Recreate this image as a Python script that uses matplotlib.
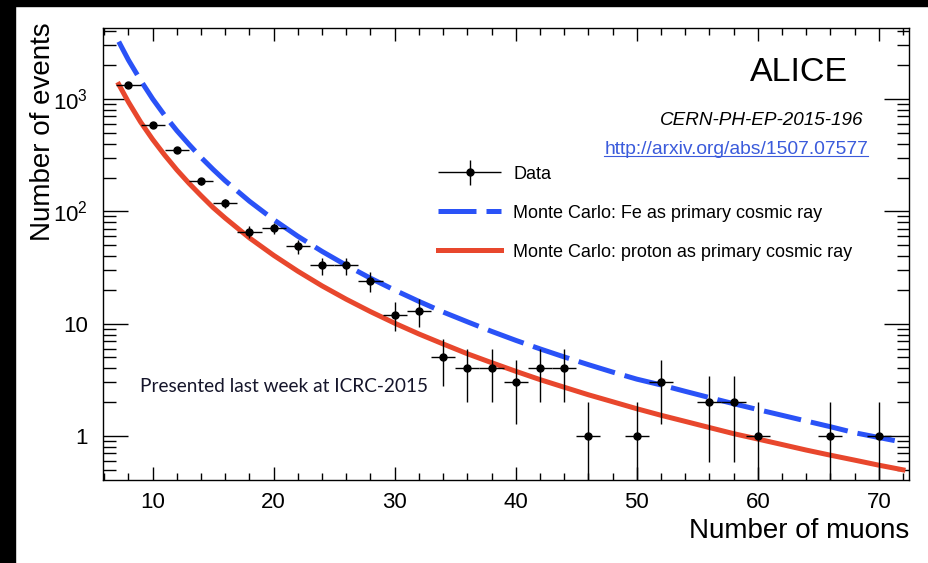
import matplotlib
matplotlib.use('Agg')
import matplotlib.pyplot as plt
import numpy as np
from matplotlib.container import ErrorbarContainer
from matplotlib.legend_handler import HandlerErrorbar
from matplotlib.lines import Line2D
from matplotlib.patches import Rectangle
from matplotlib.ticker import MultipleLocator, LogLocator, NullFormatter

plt.rcParams['font.family'] = ['Liberation Sans', 'DejaVu Sans']
plt.rcParams['mathtext.fontset'] = 'custom'
plt.rcParams['mathtext.rm'] = 'Liberation Sans'
plt.rcParams['mathtext.it'] = 'Liberation Sans:italic'

# measured data (number of muons per event, counts)
muons = [8, 10, 12, 14, 16, 18, 20, 22, 24, 26, 28, 30, 32, 34, 36, 38, 40,
         42, 44, 46, 50, 52, 56, 58, 60, 66, 70]
counts = [1330, 590, 350, 185, 118, 66, 71, 49, 33, 33, 24, 12, 13, 5, 4, 4, 3,
          4, 4, 1, 1, 3, 2, 2, 1, 1, 1]
bin_half_width = 1.0

# Monte Carlo curves
mc_x = [7.2, 8, 9, 10, 11, 12, 13, 14, 15, 16, 18, 20, 22, 24, 26, 28, 30, 32,
        34, 36, 38, 40, 42, 44, 46, 48, 50, 52, 54, 56, 58, 60, 62, 64, 66, 68,
        70, 72]
mc_fe = [3240, 2224, 1470, 1003, 713, 523, 395, 302, 236, 187, 123, 84.4, 60, 44,
         33.1, 25.4, 19.9, 15.8, 12.7, 10.4, 8.55, 7.11, 5.97, 5.06, 4.32, 3.71,
         3.21, 2.85, 2.5, 2.2, 1.94, 1.72, 1.53, 1.36, 1.21, 1.07, 0.97, 0.88]
mc_proton = [1350, 940, 625, 437, 316, 234, 178, 138, 108, 87, 58, 40.6, 29.3,
             21.7, 16.5, 12.8, 10.1, 8.1, 6.6, 5.4, 4.5, 3.77, 3.18, 2.72, 2.33,
             2.02, 1.75, 1.53, 1.35, 1.19, 1.05, 0.94, 0.84, 0.75, 0.675, 0.61,
             0.55, 0.50]

ytick_vals = [1, 10, 100, 1000]
ytick_labels = ['1', '10', '$10^{2}$', '$10^{3}$']

blue = '#2a52f7'
red = '#e8472d'

fig = plt.figure(figsize=(9.29, 5.63), dpi=100)
ax = fig.add_axes([0.1109, 0.1483, 0.8676, 0.802])

ax.plot(mc_x, mc_fe, color=blue, lw=3.6, dashes=(7.6, 2.0), solid_capstyle='butt',
        label='Monte Carlo: Fe as primary cosmic ray', zorder=2)
ax.plot(mc_x, mc_proton, color=red, lw=3.6,
        label='Monte Carlo: proton as primary cosmic ray', zorder=2)
data = ax.errorbar(muons, counts, xerr=bin_half_width, yerr=np.sqrt(counts),
                   fmt='o', color='black', ms=5, elinewidth=1, capsize=0,
                   label='Data', zorder=3)

ax.set_yscale('log')
ax.set_xlim(5.9, 72.5)
ax.set_ylim(0.41, 4290)

ax.xaxis.set_major_locator(MultipleLocator(10))
ax.xaxis.set_minor_locator(MultipleLocator(2))
ax.set_yticks(ytick_vals, ytick_labels)
ax.yaxis.set_minor_locator(LogLocator(subs=np.arange(2, 10)))
ax.yaxis.set_minor_formatter(NullFormatter())

ax.tick_params(which='both', direction='in', top=True, right=True, width=1,
               labelsize=16)
ax.tick_params(axis='x', which='major', length=9.5, pad=9)
ax.tick_params(axis='x', which='minor', length=5)
ax.tick_params(axis='y', which='major', length=18, pad=11)
ax.tick_params(axis='y', which='minor', length=9)
for s in ax.spines.values():
    s.set_linewidth(1)

ax.set_xlabel('Number of muons', fontsize=20, loc='right')
ax.xaxis.set_label_coords(1.0, -0.085)
ax.set_ylabel('Number of events', fontsize=20, loc='top')
ax.yaxis.set_label_coords(-0.058, 1.013)

handles = [data, ax.lines[0], ax.lines[1]]
labels = [h.get_label() for h in handles]
ax.legend(handles, labels, loc='center left', bbox_to_anchor=(0.4156, 0.590),
          frameon=False, fontsize=13, handlelength=3.5, handletextpad=0.66,
          labelspacing=1.22, borderpad=0, borderaxespad=0,
          handler_map={ErrorbarContainer: HandlerErrorbar(xerr_size=1.75, yerr_size=0.68)})

ax.text(0.9243, 0.9003, 'ALICE', transform=ax.transAxes, ha='right', va='center',
        fontsize=24.5)
ax.text(0.9429, 0.7962, 'CERN-PH-EP-2015-196', transform=ax.transAxes, ha='right',
        va='center', fontsize=13.6, style='italic')
url_y = 0.722
url = ax.text(0.9491, url_y, 'http://arxiv.org/abs/1507.07577', transform=ax.transAxes,
              ha='right', va='baseline', fontsize=13.9, color='#3b5bdb')
ax.text(0.0459, 0.2049, 'Presented last week at ICRC-2015', transform=ax.transAxes,
        ha='left', va='center', fontsize=13.7, family=['Lato', 'DejaVu Sans'],
        color='#15152a')

# black border strips of the screenshot
fig.patches.append(Rectangle((0, 0), 15 / 929, 1, transform=fig.transFigure,
                             color='black', zorder=10))
fig.patches.append(Rectangle((0, 1 - 6 / 563), 1, 6 / 563, transform=fig.transFigure,
                             color='black', zorder=10))

# underline the link
fig.canvas.draw()
bb = url.get_window_extent()
y_disp = ax.transAxes.transform((0, url_y))[1] - 2
inv = fig.transFigure.inverted()
x0f, yf = inv.transform((bb.x0, y_disp))
x1f = inv.transform((bb.x1, y_disp))[0]
fig.add_artist(Line2D([x0f, x1f], [yf, yf], color='#3b5bdb', lw=0.8))

fig.savefig('out.png', dpi=100)
